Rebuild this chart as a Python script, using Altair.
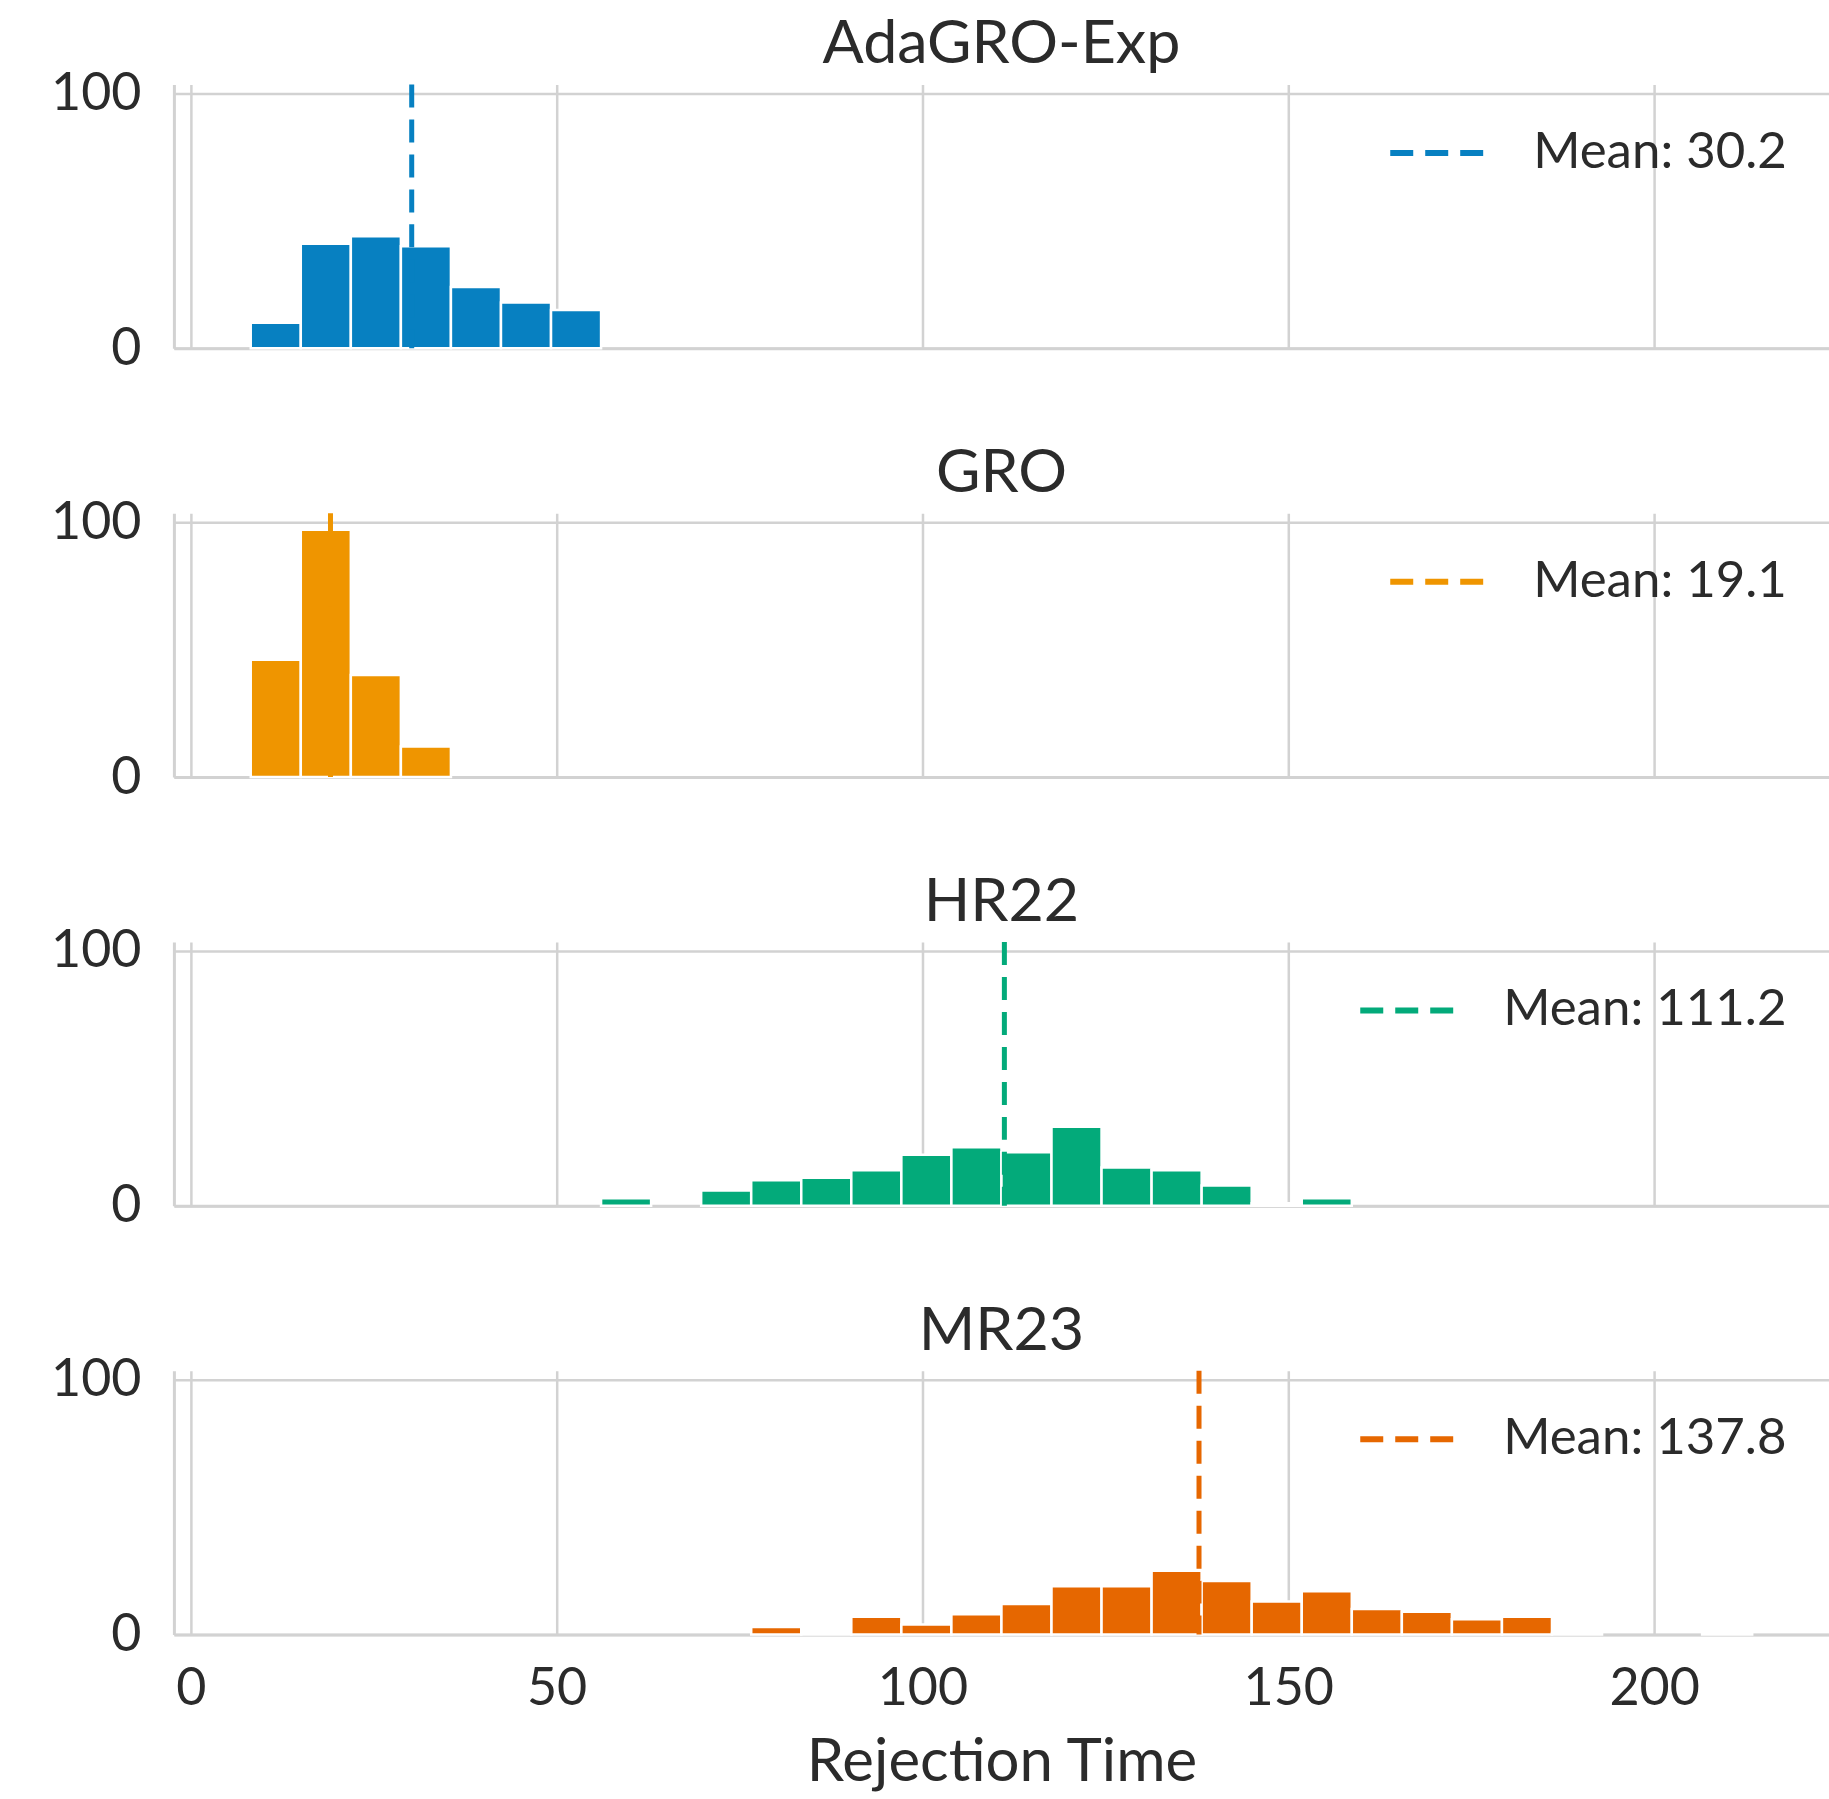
import altair as alt
import pandas as pd

# ---- data ----
methods = ["AdaGRO-Exp", "GRO", "HR22", "MR23"]
colors = ["#0780C1", "#EF9500", "#03AA7A", "#E66700"]
means = [30.2, 19.1, 111.2, 137.8]

# shared histogram bins (31 bins of equal width)
bin_start = 8.2
bin_width = 6.84
n_bins = 31

counts_adagro = [10, 41, 44, 40, 24, 18, 15, 0, 0, 0, 0, 0, 0, 0, 0, 0,
                 0, 0, 0, 0, 0, 0, 0, 0, 0, 0, 0, 0, 0, 0, 0]
counts_gro = [46, 97, 40, 12, 0, 0, 0, 0, 0, 0, 0, 0, 0, 0, 0, 0,
              0, 0, 0, 0, 0, 0, 0, 0, 0, 0, 0, 0, 0, 0, 0]
counts_hr22 = [0, 0, 0, 0, 0, 0, 0, 3, 0, 6, 10, 11, 14, 20, 23, 21,
               31, 15, 14, 8, 1, 3, 0, 0, 0, 0, 0, 0, 0, 0, 0]
counts_mr23 = [0, 0, 0, 0, 0, 0, 0, 0, 0, 0, 3, 0.6, 7, 4, 8, 12,
               19, 19, 25, 21, 13, 17, 10, 9, 6, 7, 0.6, 0, 0, 0.6, 0]
all_counts = [counts_adagro, counts_gro, counts_hr22, counts_mr23]

x_ticks = [0, 50, 100, 150, 200]
y_ticks = [0, 100]

FONT = "Lato"
GRID = "#D2D2D2"
TEXT = "#2B2B2B"

panels = []
for i, (name, col, mean, counts) in enumerate(zip(methods, colors, means, all_counts)):
    rows = []
    for b, c in enumerate(counts):
        if c > 0:
            lo = bin_start + b * bin_width
            rows.append({"lo": lo, "hi": lo + bin_width, "count": c})
    df = pd.DataFrame(rows)
    mdf = pd.DataFrame({"mean": [mean], "label": [f"Mean: {mean:.1f}"]})

    last = i == len(methods) - 1
    xaxis = alt.Axis(
        values=x_ticks, grid=True, gridColor=GRID, gridWidth=2.5,
        domain=True, domainColor=GRID, domainWidth=3, ticks=False,
        labels=last, labelFontSize=52, labelFont=FONT, labelColor=TEXT,
        labelPadding=29,
        title="Rejection Time" if last else None,
        titleFontSize=60, titleFont=FONT, titleFontWeight="normal",
        titleColor=TEXT, titlePadding=19,
    )
    xscale = alt.Scale(domain=[-2.3, 223.9], nice=False, zero=False)
    yaxis = alt.Axis(
        values=y_ticks, grid=True, gridColor=GRID, gridWidth=2.5,
        domain=True, domainColor=GRID, domainWidth=3, ticks=False,
        labelFontSize=52, labelFont=FONT, labelColor=TEXT, labelPadding=33,
        title=None,
    )
    yscale = alt.Scale(domain=[0, 103.5], nice=False)

    bars = alt.Chart(df).mark_bar(
        color=col, stroke="white", strokeWidth=2.5, opacity=1
    ).encode(
        x=alt.X("lo:Q", scale=xscale, axis=xaxis),
        x2="hi:Q",
        y=alt.Y("count:Q", scale=yscale, axis=yaxis),
        y2=alt.datum(0),
    )

    rule = alt.Chart(mdf).mark_rule(strokeDash=[23, 12], strokeWidth=5).encode(
        x=alt.X("mean:Q", scale=xscale),
        color=alt.Color(
            "label:N",
            scale=alt.Scale(domain=[f"Mean: {mean:.1f}"], range=[col]),
            legend=alt.Legend(
                orient="top-right", title=None, offset=42, padding=0,
                labelFontSize=51, labelFont=FONT, labelColor=TEXT,
                labelLimit=800, labelOffset=70,
                symbolType="M-2,0H2", symbolStrokeWidth=6,
                symbolDash=[23, 12], symbolSize=2162,
            ),
        ),
    )

    panel = alt.layer(bars, rule).properties(
        width=1656, height=264,
        title=alt.TitleParams(
            text=name, fontSize=61, font=FONT, fontWeight="normal",
            color=TEXT, anchor="middle", offset=-57, baseline="alphabetic",
        ),
    )
    panels.append(panel)

chart = alt.vconcat(*panels, spacing=68).resolve_scale(
    color="independent"
).resolve_legend(color="independent").properties(
    padding={"left": 50, "top": 13, "right": 0, "bottom": 10},
    background="white",
).configure_view(stroke=None)

chart.save("out.html", embed_options={"renderer": "svg", "actions": False})
